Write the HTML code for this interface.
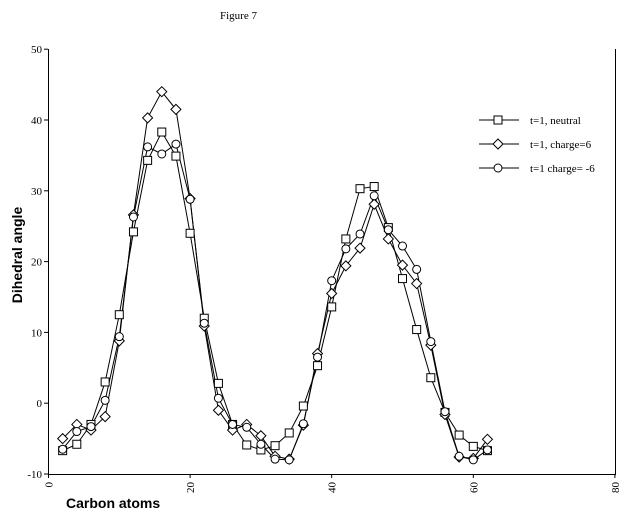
<!DOCTYPE html>
<html><head><meta charset="utf-8"><style>body{margin:0;background:#fff}</style></head><body>
<svg id="s" width="627" height="520" xmlns="http://www.w3.org/2000/svg" font-family="Liberation Serif, serif">
<rect width="627" height="520" fill="#fff"/>
<text x="220" y="19" font-size="11">Figure 7</text>
<line x1="48.5" y1="49" x2="48.5" y2="474" stroke="#000"/>
<line x1="48" y1="474.5" x2="616" y2="474.5" stroke="#000"/>
<line x1="615.5" y1="49" x2="615.5" y2="474" stroke="#000"/>
<g id="ticks" font-size="11"></g>
<text font-family="Liberation Sans, sans-serif" font-weight="bold" font-size="14" transform="translate(22,255) rotate(-90)" text-anchor="middle">Dihedral angle</text>
<text x="66" y="508" font-family="Liberation Sans, sans-serif" font-weight="bold" font-size="14">Carbon atoms</text>
<g id="data" fill="none" stroke="#000" stroke-width="1"></g>
<g id="leg" font-size="11"></g>
</svg>
<script>
const X=v=>48.5+v*7.08, Y=v=>474-(v+10)*7.08;
const t=document.getElementById('ticks');let h='';
for(let v=-10;v<=50;v+=10){const y=Y(v);h+=`<line x1="44" y1="${y}" x2="48" y2="${y}" stroke="#000"/><text x="42" y="${y+4}" text-anchor="end">${v}</text>`;}
for(let v=0;v<=80;v+=20){const x=X(v);h+=`<line x1="${x}" y1="474" x2="${x}" y2="478" stroke="#000"/><text transform="translate(${x+4},482) rotate(-90)" text-anchor="end">${v}</text>`;}
t.innerHTML=h;
const sq=[-6.7,-5.8,-3,3,12.5,24.2,34.3,38.3,34.9,24,12,2.8,-3,-5.9,-6.6,-6,-4.2,-0.4,5.3,13.6,23.2,30.3,30.6,24.8,17.6,10.4,3.6,-1.3,-4.5,-6.1,-6.7];
const di=[-5,-3,-3.8,-1.9,8.8,26.6,40.3,44,41.5,28.9,10.9,-1,-3.8,-3,-4.6,-7.5,-7.9,-3.1,7,15.5,19.4,21.9,28.1,23.2,19.5,16.9,8.2,-1.6,-7.6,-7.8,-5.1];
const ci=[-6.5,-4,-3.3,0.4,9.4,26.3,36.2,35.2,36.6,28.8,11.3,0.7,-3,-3.4,-5.8,-7.9,-8,-2.9,6.5,17.3,21.8,23.9,29.3,24.5,22.2,18.9,8.7,-1.2,-7.5,-8,-6.6];
function mk(k,x,y){if(k==0)return `<rect x="${x-4}" y="${y-4}" width="8" height="8" fill="#fff"/>`;if(k==1)return `<polygon points="${x},${y-5} ${x+5},${y} ${x},${y+5} ${x-5},${y}" fill="#fff"/>`;return `<circle cx="${x}" cy="${y}" r="4" fill="#fff"/>`;}
let d='';[sq,di,ci].forEach((a,k)=>{d+=`<polyline points="${a.map((v,i)=>X(2+2*i)+','+Y(v)).join(' ')}"/>`;});
[sq,di,ci].forEach((a,k)=>{a.forEach((v,i)=>d+=mk(k,X(2+2*i),Y(v)));});
document.getElementById('data').innerHTML=d;
let l='';const lab=['t=1, neutral','t=1, charge=6','t=1 charge= -6'];
[120,144,168].forEach((y,k)=>{l+=`<g fill="none" stroke="#000"><line x1="479" y1="${y}" x2="519" y2="${y}"/>${mk(k,498,y)}</g><text x="530" y="${y+4}">${lab[k]}</text>`;});
document.getElementById('leg').innerHTML=l;
</script>
</body></html>
